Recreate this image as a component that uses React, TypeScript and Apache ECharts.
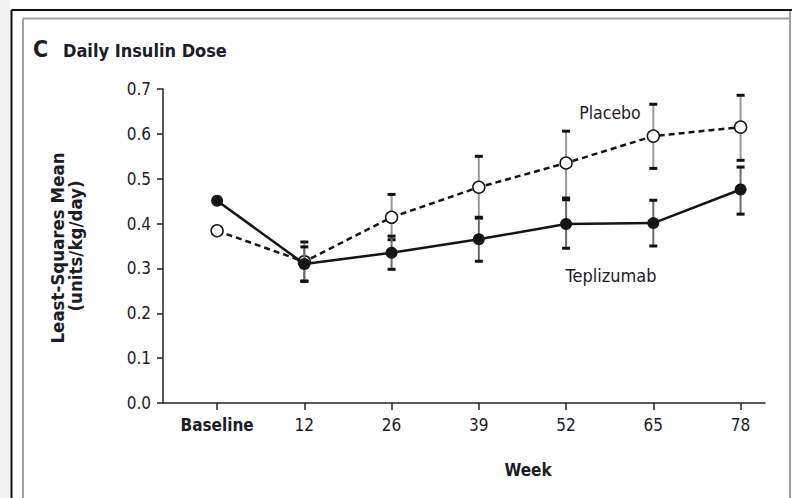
import React, { useEffect, useRef } from "react";
import * as echarts from "echarts";

// Weeks on the x axis (plotted at evenly spaced positions 0..6)
const weekLabels = ["Baseline", "12", "26", "39", "52", "65", "78"];

// Least-squares mean daily insulin dose (units/kg/day)
const teplizumabMean = [0.451, 0.31, 0.335, 0.365, 0.399, 0.401, 0.476];
const teplizumabLow = [null, 0.272, 0.298, 0.316, 0.345, 0.35, 0.421];
const teplizumabHigh = [null, 0.348, 0.372, 0.414, 0.453, 0.452, 0.526];

const placeboMean = [0.384, 0.315, 0.414, 0.481, 0.535, 0.595, 0.615];
const placeboLow = [null, 0.271, 0.364, 0.412, 0.457, 0.523, 0.541];
const placeboHigh = [null, 0.359, 0.465, 0.55, 0.606, 0.666, 0.686];

const yTicks = [0, 0.1, 0.2, 0.3, 0.4, 0.5, 0.6, 0.7];

const FONT = "'DejaVu Sans Condensed', 'Liberation Sans Narrow', 'Open Sans', sans-serif";
const INK = "#1c1c28";

function errorData(low: (number | null)[], high: (number | null)[]) {
  const out: number[][] = [];
  low.forEach((lo, i) => {
    const hi = high[i];
    if (lo != null && hi != null) out.push([i, lo, hi]);
  });
  return out;
}

function errorSeries(name: string, low: (number | null)[], high: (number | null)[], stem: string, z: number) {
  return {
    type: "custom",
    name,
    z,
    silent: true,
    data: errorData(low, high),
    renderItem: (_params: any, api: any) => {
      const x = api.value(0);
      const pLo = api.coord([x, api.value(1)]);
      const pHi = api.coord([x, api.value(2)]);
      return {
        type: "group",
        children: [
          {
            type: "line",
            shape: { x1: pLo[0], y1: pLo[1], x2: pHi[0], y2: pHi[1] },
            style: { stroke: stem, lineWidth: 2 },
          },
          {
            type: "rect",
            shape: { x: pLo[0] - 4, y: pLo[1] - 1.5, width: 8, height: 3 },
            style: { fill: "#111" },
          },
          {
            type: "rect",
            shape: { x: pHi[0] - 4, y: pHi[1] - 1.5, width: 8, height: 3 },
            style: { fill: "#111" },
          },
        ],
      };
    },
  };
}

export default function App() {
  const ref = useRef<HTMLDivElement>(null);

  useEffect(() => {
    if (!ref.current) return;
    const chart = echarts.init(ref.current, null, { renderer: "svg" });

    const option = {
      animation: false,
      backgroundColor: "#ffffff",
      grid: { left: 163, right: 27, top: 89, bottom: 95, containLabel: false },
      xAxis: {
        type: "value",
        min: -0.62,
        max: 6.28,
        splitLine: { show: false },
        axisLine: { show: true, onZero: false, lineStyle: { color: "#222", width: 1.5 } },
        axisTick: {
          show: true,
          customValues: weekLabels.map((_, i) => i),
          length: 7,
          lineStyle: { color: "#222", width: 1.5 },
        },
        axisLabel: {
          customValues: weekLabels.map((_, i) => i),
          margin: 13,
          fontFamily: FONT,
          fontSize: 17,
          color: INK,
          formatter: (v: number) => {
            const label = weekLabels[Math.round(v)];
            return Math.round(v) === 0 ? `{b|${label}}` : label;
          },
          rich: { b: { fontFamily: FONT, fontSize: 17, fontWeight: "bold", color: INK } },
        },
      },
      yAxis: {
        type: "value",
        min: 0,
        max: 0.7,
        interval: 0.1,
        splitLine: { show: false },
        axisLine: { show: true, onZero: false, lineStyle: { color: "#222", width: 1.5 } },
        axisTick: { show: true, length: 6, lineStyle: { color: "#222", width: 1.5 } },
        axisLabel: {
          margin: 12,
          fontFamily: FONT,
          fontSize: 17,
          color: INK,
          formatter: (v: number) => {
            const t = yTicks.find((y) => Math.abs(y - v) < 1e-6);
            return (t ?? v).toFixed(1);
          },
        },
      },
      series: [
        errorSeries("Placebo CI", placeboLow, placeboHigh, "#9a9a9a", 1),
        {
          type: "line",
          name: "Placebo",
          z: 2,
          data: placeboMean.map((v, i) => [i, v]),
          symbol: "circle",
          symbolSize: 12,
          showAllSymbol: true,
          lineStyle: { color: "#151515", width: 2.5, type: [6, 4] },
          itemStyle: { color: "#ffffff", borderColor: "#151515", borderWidth: 1.5 },
        },
        errorSeries("Teplizumab CI", teplizumabLow, teplizumabHigh, "#6a6a6a", 3),
        {
          type: "line",
          name: "Teplizumab",
          z: 4,
          data: teplizumabMean.map((v, i) => [i, v]),
          symbol: "circle",
          symbolSize: 12,
          showAllSymbol: true,
          lineStyle: { color: "#151515", width: 2.5 },
          itemStyle: { color: "#151515" },
        },
      ],
      graphic: [
        // page frame
        { type: "rect", shape: { x: 0, y: 0, width: 10, height: 498 }, style: { fill: "#f3f3f3" }, silent: true },
        { type: "line", shape: { x1: 11.5, y1: 10, x2: 792, y2: 10 }, style: { stroke: "#111", lineWidth: 2 } },
        { type: "line", shape: { x1: 11.5, y1: 10, x2: 11.5, y2: 498 }, style: { stroke: "#111", lineWidth: 2 } },
        { type: "line", shape: { x1: 23, y1: 18.5, x2: 790, y2: 18.5 }, style: { stroke: "#a0a0a0", lineWidth: 2 } },
        { type: "line", shape: { x1: 23, y1: 18.5, x2: 23, y2: 498 }, style: { stroke: "#a0a0a0", lineWidth: 2 } },
        { type: "line", shape: { x1: 790, y1: 11, x2: 790, y2: 498 }, style: { stroke: "#a0a0a0", lineWidth: 2 } },
        // panel title
        {
          type: "text",
          x: 33,
          y: 49,
          style: { text: "C", fontFamily: FONT, fontSize: 23, fontWeight: "bold", fill: INK, textVerticalAlign: "middle" },
        },
        {
          type: "text",
          x: 63,
          y: 50,
          style: { text: "Daily Insulin Dose", fontFamily: FONT, fontSize: 18, fontWeight: "bold", fill: INK, textVerticalAlign: "middle" },
        },
        // y axis title
        {
          type: "text",
          x: 57,
          y: 248,
          rotation: Math.PI / 2,
          style: { text: "Least-Squares Mean", fontFamily: FONT, fontSize: 18.5, fontWeight: "bold", fill: INK, textAlign: "center", textVerticalAlign: "middle" },
        },
        {
          type: "text",
          x: 75,
          y: 246,
          rotation: Math.PI / 2,
          style: { text: "(units/kg/day)", fontFamily: FONT, fontSize: 18.5, fontWeight: "bold", fill: INK, textAlign: "center", textVerticalAlign: "middle" },
        },
        // x axis title
        {
          type: "text",
          x: 528,
          y: 470,
          style: { text: "Week", fontFamily: FONT, fontSize: 17, fontWeight: "bold", fill: INK, textAlign: "center", textVerticalAlign: "middle" },
        },
        // series labels
        {
          type: "text",
          x: 610,
          y: 113,
          style: { text: "Placebo", fontFamily: FONT, fontSize: 17.5, fill: INK, textAlign: "center", textVerticalAlign: "middle" },
        },
        {
          type: "text",
          x: 611,
          y: 275,
          style: { text: "Teplizumab", fontFamily: FONT, fontSize: 18, fill: INK, textAlign: "center", textVerticalAlign: "middle" },
        },
      ],
    };

    chart.setOption(option as any);
    return () => chart.dispose();
  }, []);

  return (
    <div
      ref={ref}
      style={{ position: "fixed", left: 0, top: 0, width: 792, height: 498, background: "#fff" }}
    />
  );
}
